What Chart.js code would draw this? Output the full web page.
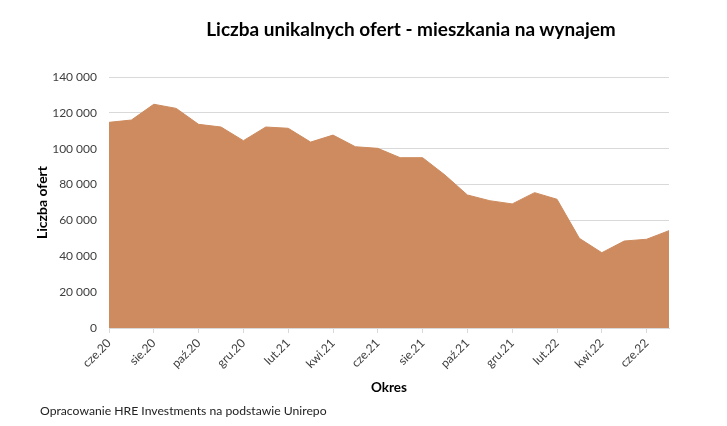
<!DOCTYPE html>
<html>
<head>
<meta charset="utf-8">
<script src="https://cdn.jsdelivr.net/npm/chart.js@4/dist/chart.umd.min.js"></script>
<style>
  body { margin: 0; background: #fff; }
  #wrap { position: relative; width: 727px; height: 426px; font-family: Lato, "Open Sans", sans-serif; }
  #title { position: absolute; left: 0; width: 822px; top: 17px; text-align: center; font-weight: bold; font-size: 19px; color: #000; }
  #note { position: absolute; left: 40px; top: 403px; font-size: 12.2px; color: #222; }
  canvas { position: absolute; left: 0; top: 0; }
</style>
</head>
<body>
<div id="wrap">
  <canvas id="chart" width="727" height="426"></canvas>
  <div id="title">Liczba unikalnych ofert - mieszkania na wynajem</div>
  <div id="note">Opracowanie HRE Investments na podstawie Unirepo</div>
</div>
<script>
// months cze.20 .. lip.22
const months = [
  "cze.20", "lip.20", "sie.20", "wrz.20", "paź.20", "lis.20", "gru.20",
  "sty.21", "lut.21", "mar.21", "kwi.21", "maj.21", "cze.21", "lip.21",
  "sie.21", "wrz.21", "paź.21", "lis.21", "gru.21",
  "sty.22", "lut.22", "mar.22", "kwi.22", "maj.22", "cze.22", "lip.22"
];
const offers = [
  114700, 116000, 124800, 122500, 113600, 112100, 104500,
  112100, 111400, 103700, 107600, 101100, 100200, 95000,
  95000, 85300, 74200, 71000, 69200,
  75500, 71800, 50000, 42000, 48500, 49500, 54300
];
const yTicks = [0, 20000, 40000, 60000, 80000, 100000, 120000, 140000];

const fontFamily = "Lato, 'Open Sans', sans-serif";
const fmt = (v) => String(v).replace(/\B(?=(\d{3})+(?!\d))/g, " ");

const ctx = document.getElementById("chart").getContext("2d");
const chart = new Chart(ctx, {
  type: "line",
  data: {
    labels: months,
    datasets: [
      {
        label: "Liczba ofert",
        data: offers,
        fill: "origin",
        backgroundColor: "#cd8b5f",
        borderColor: "#cd8b5f",
        borderWidth: 1,
        pointRadius: 0,
        tension: 0,
      },
    ],
  },
  options: {
    responsive: false,
    animation: false,
    layout: { padding: { left: 34, top: 77, right: 58, bottom: 30 } },
    plugins: {
      legend: { display: false },
      tooltip: { enabled: false },
    },
    scales: {
      x: {
        offset: false,
        grid: { drawOnChartArea: false, drawTicks: true, tickLength: 5, color: "#d9d9d9" },
        border: { color: "#d9d9d9" },
        ticks: {
          autoSkip: false,
          maxRotation: 45,
          minRotation: 45,
          padding: 3,
          color: "#404040",
          font: { family: fontFamily, size: 12 },
          callback: function (value, index) {
            return index % 2 === 0 ? months[index] : null;
          },
        },
        title: {
          display: true,
          text: "Okres",
          color: "#000",
          font: { family: fontFamily, size: 13.5, weight: "bold" },
          padding: { top: 0, bottom: 0 },
        },
        afterFit: function (scale) {
          scale.height = 68;
        },
      },
      y: {
        min: 0,
        max: 140000,
        afterBuildTicks: function (scale) {
          scale.ticks = yTicks.map((v) => ({ value: v }));
        },
        grid: { color: "#d9d9d9", drawTicks: false },
        border: { display: false },
        ticks: {
          padding: 12,
          color: "#404040",
          font: { family: fontFamily, size: 12 },
          callback: (v) => fmt(v),
        },
        title: {
          display: true,
          text: "Liczba ofert",
          color: "#000",
          font: { family: fontFamily, size: 14, weight: "bold" },
          padding: { top: 0, bottom: 0 },
        },
        afterFit: function (scale) {
          scale.width = 75;
        },
      },
    },
  },
});
</script>
</body>
</html>
